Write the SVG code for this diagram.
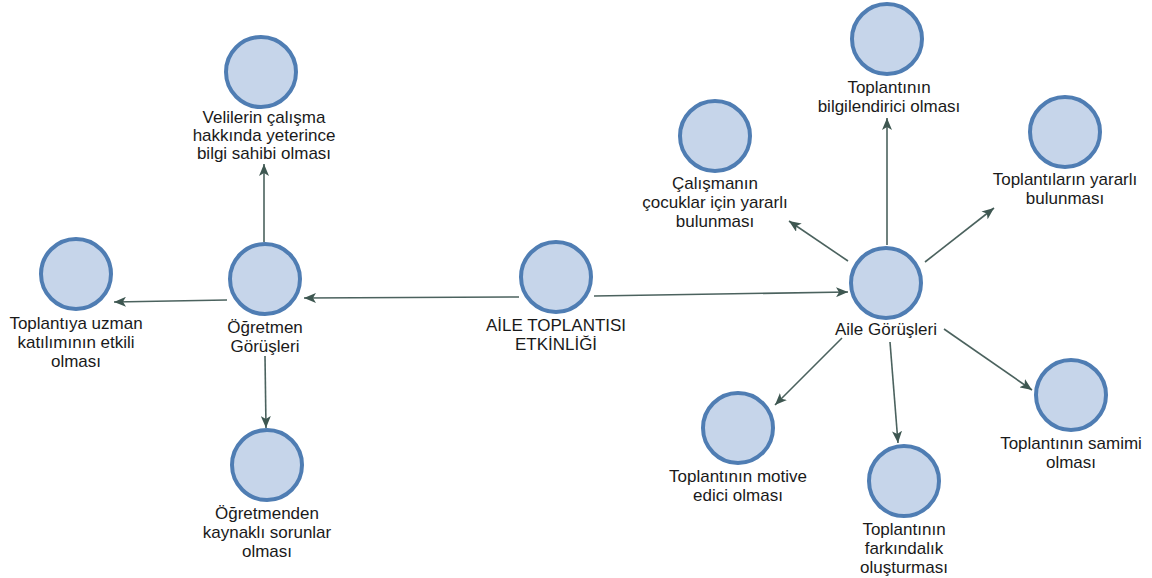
<svg xmlns="http://www.w3.org/2000/svg" width="1152" height="578" viewBox="0 0 1152 578">
<style>
  .node circle { fill: #c6d5ea; stroke: #4f7db3; stroke-width: 4; }
  .node text { font-family: "Liberation Sans", Arial, sans-serif; font-size: 17px; fill: #1a1a1a; text-anchor: middle; }
  .conn line { stroke: #4b625e; stroke-width: 1.6; fill: none; marker-end: url(#arr); }
</style>
<defs>
  <marker id="arr" viewBox="0 0 12 10" refX="12" refY="5" markerWidth="12" markerHeight="10" markerUnits="userSpaceOnUse" orient="auto">
    <path d="M0,0 L12,5 L0,10 L3,5 Z" fill="#3e5751"/>
  </marker>
</defs>
<rect width="1152" height="578" fill="#ffffff"/>
<g id="connectors" class="conn">
  <line x1="519" y1="297" x2="304" y2="298"/>
  <line x1="594" y1="296" x2="848" y2="292"/>
  <line x1="227" y1="300" x2="114" y2="302"/>
  <line x1="264" y1="242" x2="264" y2="164"/>
  <line x1="265" y1="356" x2="266" y2="428"/>
  <line x1="848" y1="261" x2="789" y2="221"/>
  <line x1="887" y1="245" x2="887" y2="118"/>
  <line x1="925" y1="262" x2="994" y2="208"/>
  <line x1="842" y1="338" x2="775" y2="405"/>
  <line x1="890" y1="342" x2="898" y2="443"/>
  <line x1="944" y1="329" x2="1032" y2="390"/>
</g>
<g id="n-aile-toplantisi" class="node">
  <circle cx="556" cy="277" r="35"/>
  <text x="556" y="331">AİLE TOPLANTISI</text>
  <text x="556" y="350">ETKİNLİĞİ</text>
</g>
<g id="n-ogretmen" class="node">
  <circle cx="265" cy="279" r="35"/>
  <text x="265" y="333">Öğretmen</text>
  <text x="265" y="352">Görüşleri</text>
</g>
<g id="n-veliler" class="node">
  <circle cx="261" cy="72" r="35"/>
  <text x="264" y="123">Velilerin çalışma</text>
  <text x="264" y="141">hakkında yeterince</text>
  <text x="264" y="159">bilgi sahibi olması</text>
</g>
<g id="n-uzman" class="node">
  <circle cx="76" cy="274" r="35"/>
  <text x="76" y="329">Toplantıya uzman</text>
  <text x="76" y="348">katılımının etkili</text>
  <text x="76" y="367">olması</text>
</g>
<g id="n-ogretmenden" class="node">
  <circle cx="267" cy="465" r="35"/>
  <text x="267" y="519">Öğretmenden</text>
  <text x="267" y="538">kaynaklı sorunlar</text>
  <text x="267" y="557">olması</text>
</g>
<g id="n-aile-gorusleri" class="node">
  <circle cx="886" cy="283" r="35"/>
  <text x="886" y="335">Aile Görüşleri</text>
</g>
<g id="n-calismanin" class="node">
  <circle cx="715" cy="136" r="35"/>
  <text x="715" y="189">Çalışmanın</text>
  <text x="715" y="208">çocuklar için yararlı</text>
  <text x="715" y="227">bulunması</text>
</g>
<g id="n-bilgilendirici" class="node">
  <circle cx="887" cy="39" r="35"/>
  <text x="889" y="93">Toplantının</text>
  <text x="889" y="112">bilgilendirici olması</text>
</g>
<g id="n-yararli" class="node">
  <circle cx="1065" cy="132" r="35"/>
  <text x="1065" y="185">Toplantıların yararlı</text>
  <text x="1065" y="204">bulunması</text>
</g>
<g id="n-motive" class="node">
  <circle cx="738" cy="428" r="35"/>
  <text x="738" y="482">Toplantının motive</text>
  <text x="738" y="501">edici olması</text>
</g>
<g id="n-farkindalik" class="node">
  <circle cx="904" cy="481" r="35"/>
  <text x="904" y="535">Toplantının</text>
  <text x="904" y="554">farkındalık</text>
  <text x="904" y="573">oluşturması</text>
</g>
<g id="n-samimi" class="node">
  <circle cx="1071" cy="395" r="35"/>
  <text x="1071" y="449">Toplantının samimi</text>
  <text x="1071" y="468">olması</text>
</g>
</svg>
